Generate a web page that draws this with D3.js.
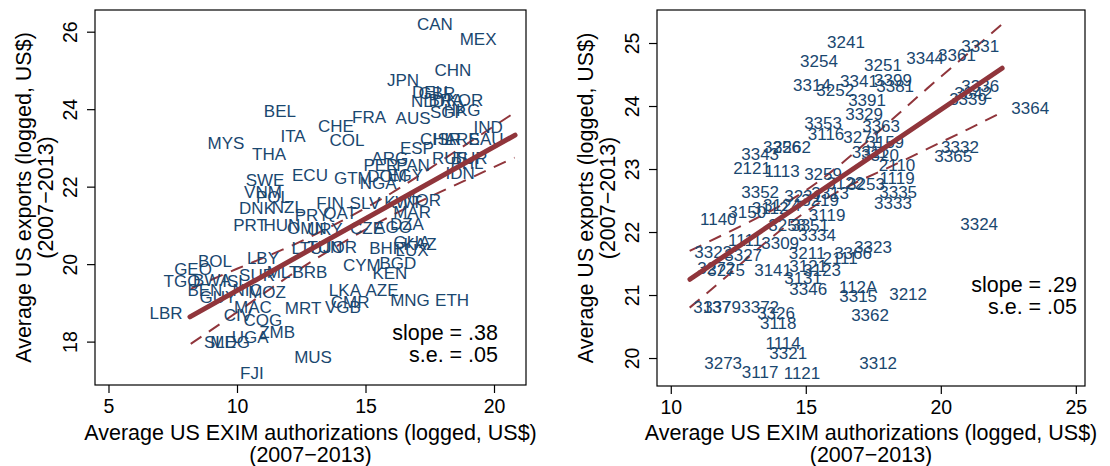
<!DOCTYPE html>
<html><head><meta charset="utf-8">
<script src="https://cdn.jsdelivr.net/npm/d3@7"></script>
<style>
body{margin:0;background:#fff}
svg{display:block}
text{font-family:"Liberation Sans",Arial,Helvetica,sans-serif}
</style>
</head><body>
<svg id="chart" width="1110" height="466"></svg>
<script>
// ---------- Left panel: countries ----------
const countryCodes = ["CAN","MEX","CHN","JPN","BEL","MYS","ITA","THA","CHE","FRA","COL","AUS","DEU","GBR","NLD","BRA","KOR","SGP","HKG","IND","CHL","ISR","ARE","SAU","ESP","ARG","RUS","TUR","PER","PAN","PHL","IDN","GTM","NGA","DOM","EGY","SWE","ECU","VNM","POL","DNK","NZL","FIN","SLV","KWT","NOR","PRT","HUN","PRY","QAT","OMN","URY","MAR","AGO","DZA","CZE","LTU","TUN","JOR","BHR","LUX","GHA","KAZ","LBY","CYM","BGD","KEN","SUR","MLT","BRB","BOL","GEO","TGO","BWA","BEN","GUY","ISL","NIC","MOZ","LBR","MAC","CIV","COG","ZMB","UGA","SLE","MDG","MRT","LKA","CMR","VGB","AZE","MNG","ETH","MUS","FJI"];
const countryExim = [17.70,19.38,18.40,16.46,11.67,9.57,12.18,11.25,13.85,15.14,14.28,16.85,17.51,17.78,17.43,18.13,18.87,18.21,18.76,19.77,17.78,18.17,18.76,19.69,17.00,15.95,18.29,19.07,15.60,16.85,18.95,18.68,14.51,15.49,15.84,16.54,11.09,12.84,11.01,11.40,10.78,11.98,13.62,14.98,16.46,17.20,10.51,11.75,12.92,14.01,12.72,13.42,16.81,16.07,16.61,15.06,12.72,13.42,14.01,15.84,16.81,16.81,17.12,11.01,14.86,16.26,15.95,10.78,11.79,12.84,9.14,8.29,7.86,9.03,8.75,9.26,9.92,10.39,11.17,7.24,10.62,10.04,11.01,11.56,10.51,9.34,9.73,12.57,14.20,14.40,14.12,15.64,16.73,18.37,12.96,10.58];
const countryExports = [26.20,25.81,25.01,24.75,23.95,23.13,23.31,22.84,23.57,23.80,23.20,23.77,24.44,24.42,24.21,24.24,24.24,23.93,23.98,23.54,23.23,23.23,23.23,23.23,23.00,22.74,22.74,22.74,22.56,22.56,22.61,22.35,22.22,22.10,22.27,22.30,22.17,22.30,21.86,21.73,21.45,21.47,21.58,21.58,21.61,21.66,21.01,21.01,21.27,21.32,20.93,20.90,21.34,20.96,21.04,20.93,20.41,20.44,20.44,20.41,20.36,20.57,20.52,20.16,19.98,20.03,19.77,19.72,19.80,19.80,20.08,19.87,19.57,19.59,19.33,19.15,19.57,19.33,19.28,18.74,18.89,18.69,18.56,18.25,18.12,17.99,17.99,18.87,19.33,19.02,18.89,19.33,19.08,19.08,17.60,17.19];
const countryFitX = [8.17, 20.82];
const countryFitY = [18.64, 23.33];
const countryCiX = [8.2, 10, 12, 14, 16, 18, 20.8];
const countryCiUpper = [19.36, 19.88, 20.44, 21.09, 21.83, 22.69, 23.91];
const countryCiLower = [17.94, 18.76, 19.68, 20.51, 21.25, 21.89, 22.75];
const countryXTicks = [5, 10, 15, 20];
const countryYTicks = [18, 20, 22, 24, 26];
const countryStats = ["slope = .38", "s.e. = .05"];

// ---------- Right panel: industries ----------
const industryCodes = ["3241","3254","3251","3344","3361","3331","3314","3252","3341","3399","3381","3391","3329","3363","3353","3116","3343","3256","3262","2121","1113","3259","3122","3253","3352","3336","3342","3339","3364","3332","3365","3271","3159","3311","3320","2110","1119","3335","3333","3324","3212","3323","3366","1140","3150","3112","3124","3313","3119","3258","3351","3334","1111","3309","3322","3327","3211","2111","3272","3275","3141","3121","3123","3131","3346","112A","3315","3362","3137","3379","3372","3326","3118","1114","3321","3273","3117","1121","3312","3231","3219"];
const industryExim = [16.49,15.49,17.86,19.42,20.60,21.46,15.23,16.09,16.97,18.23,18.31,17.27,17.16,17.79,15.64,15.75,13.31,14.12,14.49,13.01,14.12,15.64,16.46,17.23,13.31,21.46,21.20,21.01,23.31,20.71,20.46,17.09,17.94,17.38,17.75,18.38,18.38,18.42,18.23,21.42,18.79,17.49,16.75,11.76,12.83,13.68,14.12,15.90,15.79,14.31,15.16,15.42,12.75,14.05,11.57,12.68,15.05,16.27,11.68,12.05,13.79,15.09,15.60,14.90,15.09,16.94,16.94,17.38,11.53,11.90,13.31,13.90,13.98,14.16,14.35,11.94,13.31,14.86,17.68,14.90,15.53];
const industryExports = [25.02,24.71,24.65,24.76,24.81,24.95,24.33,24.25,24.40,24.41,24.32,24.10,23.87,23.68,23.73,23.56,23.24,23.35,23.35,23.02,22.97,22.92,22.78,22.76,22.63,24.32,24.21,24.11,23.97,23.35,23.21,23.51,23.43,23.27,23.22,23.06,22.86,22.63,22.46,22.13,21.02,21.76,21.67,22.21,22.32,22.38,22.43,22.62,22.27,22.11,22.11,21.95,21.87,21.83,21.68,21.63,21.67,21.59,21.43,21.40,21.40,21.46,21.40,21.27,21.10,21.13,20.98,20.68,20.81,20.81,20.81,20.71,20.56,20.24,20.08,19.92,19.78,19.76,19.92,22.57,22.51];
const industryFitX = [10.71, 22.27];
const industryFitY = [21.25, 24.60];
const industryCiX = [10.7, 12, 13.5, 15, 16.5, 18, 19.5, 21, 22.3];
const industryCiUpper = [21.70, 21.97, 22.29, 22.66, 23.15, 23.71, 24.28, 24.83, 25.31];
const industryCiLower = [20.80, 21.27, 21.83, 22.32, 22.71, 23.01, 23.32, 23.63, 23.91];
const industryXTicks = [10, 15, 20, 25];
const industryYTicks = [20, 21, 22, 23, 24, 25];
const industryStats = ["slope = .29", "s.e. = .05"];

const xTitle = ["Average US EXIM authorizations (logged, US$)", "(2007\u22122013)"];
const yTitle = ["Average US exports (logged, US$)", "(2007\u22122013)"];

const LABEL_COLOR = "#1a476f";
const FIT_COLOR = "#90353b";

const svg = d3.select("#chart");

function panel(cfg) {
  const {left, right, top, bottom} = cfg.box;
  const x = d3.scaleLinear().domain(cfg.xDomain).range([left, right]);
  const y = d3.scaleLinear().domain(cfg.yDomain).range([bottom, top]);
  const g = svg.append("g");

  // plot box
  g.append("rect").attr("x", left).attr("y", top)
    .attr("width", right - left).attr("height", bottom - top)
    .attr("fill", "#fff").attr("stroke", "#000").attr("stroke-width", 1.2);

  // x axis
  const xa = g.append("g").attr("transform", `translate(0,${bottom})`)
    .call(d3.axisBottom(x).tickValues(cfg.xTicks).tickSize(8).tickPadding(6).tickFormat(d3.format("d")));
  xa.select(".domain").remove();
  xa.selectAll("line").attr("stroke", "#000").attr("stroke-width", 1.2);
  xa.selectAll("text").attr("font-size", 19.5).attr("fill", "#000")
    .style("font-family", '"Liberation Sans",Arial,sans-serif');

  // y axis (rotated labels)
  const ya = g.append("g").attr("transform", `translate(${left},0)`)
    .call(d3.axisLeft(y).tickValues(cfg.yTicks).tickSize(8).tickFormat(d3.format("d")));
  ya.select(".domain").remove();
  ya.selectAll("line").attr("stroke", "#000").attr("stroke-width", 1.2);
  ya.selectAll("text").attr("transform", "rotate(-90)")
    .attr("x", 0).attr("y", -18).attr("dy", 0)
    .attr("text-anchor", "middle").attr("font-size", 19.5).attr("fill", "#000")
    .style("font-family", '"Liberation Sans",Arial,sans-serif');

  // CI dashed lines
  const ciLine = d3.line().curve(d3.curveNatural);
  [cfg.ciUpper, cfg.ciLower].forEach(arr => {
    g.append("path")
      .attr("d", ciLine(cfg.ciX.map((v, i) => [x(v), y(arr[i])])))
      .attr("fill", "none").attr("stroke", FIT_COLOR).attr("stroke-width", 2)
      .attr("stroke-dasharray", "13,9");
  });

  // labels
  g.append("g").selectAll("text").data(cfg.codes).join("text")
    .attr("x", (d, i) => x(cfg.xs[i]))
    .attr("y", (d, i) => y(cfg.ys[i]))
    .attr("dy", "0.36em")
    .attr("text-anchor", "middle")
    .attr("font-size", 17)
    .attr("fill", LABEL_COLOR)
    .text(d => d);

  // fit line
  g.append("path")
    .attr("d", d3.line()(cfg.fitX.map((v, i) => [x(v), y(cfg.fitY[i])])))
    .attr("fill", "none").attr("stroke", FIT_COLOR).attr("stroke-width", 5)
    .attr("stroke-linecap", "round");

  // stats text
  cfg.stats.forEach((s, i) => {
    g.append("text").attr("x", cfg.statsX).attr("y", cfg.statsY + i * 22)
      .attr("text-anchor", "end").attr("font-size", 21.5).attr("fill", "#000").text(s);
  });

  // x title
  const cx = (left + right) / 2;
  xTitle.forEach((t, i) => {
    g.append("text").attr("x", cx).attr("y", 440 + i * 21.5)
      .attr("text-anchor", "middle").attr("font-size", 21.5).attr("fill", "#000").text(t);
  });
  // y title
  const cy = (top + bottom) / 2;
  yTitle.forEach((t, i) => {
    g.append("text")
      .attr("transform", `translate(${left - 64 + i * 21.5},${cy}) rotate(-90)`)
      .attr("text-anchor", "middle").attr("font-size", 21.5).attr("fill", "#000").text(t);
  });
}

panel({
  box: {left: 95, right: 526, top: 10, bottom: 385},
  xDomain: [4.475, 21.245], yDomain: [26.56, 16.88].reverse(),
  xTicks: countryXTicks, yTicks: countryYTicks,
  codes: countryCodes, xs: countryExim, ys: countryExports,
  fitX: countryFitX, fitY: countryFitY,
  ciX: countryCiX, ciUpper: countryCiUpper, ciLower: countryCiLower,
  stats: countryStats, statsX: 498, statsY: 340
});

panel({
  box: {left: 657, right: 1085, top: 10, bottom: 386},
  xDomain: [9.49, 25.34], yDomain: [19.556, 25.524],
  xTicks: industryXTicks, yTicks: industryYTicks,
  codes: industryCodes, xs: industryExim, ys: industryExports,
  fitX: industryFitX, fitY: industryFitY,
  ciX: industryCiX, ciUpper: industryCiUpper, ciLower: industryCiLower,
  stats: industryStats, statsX: 1077, statsY: 292
});
</script>
</body></html>
